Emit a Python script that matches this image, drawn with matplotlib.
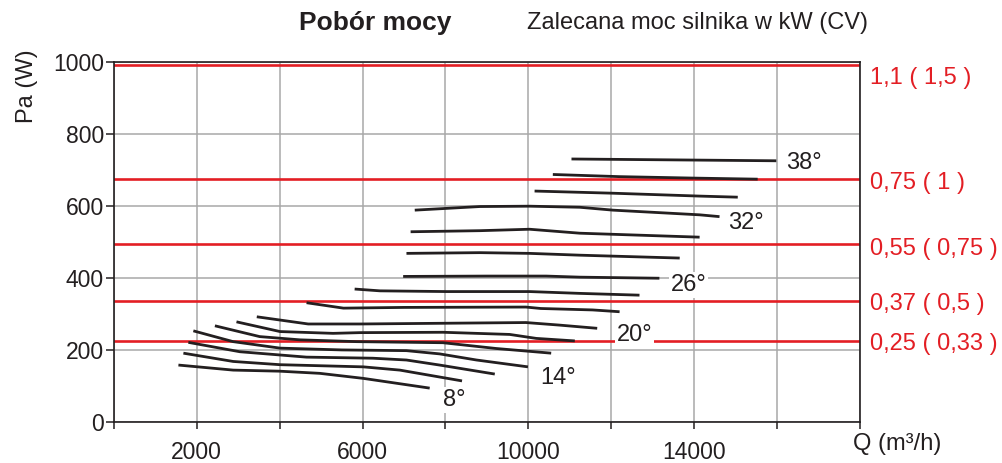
import matplotlib
matplotlib.use("Agg")
import matplotlib.pyplot as plt
import matplotlib.transforms as mtransforms

plt.rcParams['font.family'] = ['Liberation Sans', 'DejaVu Sans']

# Power-absorption curves, one per blade angle: airflow Q (m3/h) and power Pa (W)
q_08 = [1560, 2880, 4000, 4970, 6020, 7620]
p_08 = [158, 144, 141, 135, 121, 94]
q_10 = [1680, 2880, 4010, 6020, 6900, 8400]
p_10 = [191, 168, 159, 153, 144, 114]
q_12 = [1800, 3040, 4650, 6250, 7060, 7860, 9190]
p_12 = [221, 195, 180, 177, 172, 158, 133]
q_14 = [1920, 2880, 4010, 5500, 7060, 7860, 8750, 9990]
p_14 = [253, 223, 205, 200, 198, 189, 172, 153]
q_16 = [2440, 3520, 4490, 5860, 7940, 9220, 10550]
p_16 = [267, 237, 228, 223, 220, 204, 191]
q_18 = [2960, 4010, 5290, 5940, 7940, 9550, 10190, 11120]
p_18 = [278, 251, 246, 248, 249, 243, 232, 225]
q_20 = [3450, 4690, 5940, 7940, 9940, 10740, 11660]
p_20 = [292, 272, 272, 274, 276, 269, 260]
q_22 = [4650, 5540, 7000, 9940, 10300, 11550, 12200]
p_22 = [331, 316, 318, 319, 315, 311, 306]
q_24 = [5810, 6420, 8020, 10030, 11230, 12680]
p_24 = [369, 364, 362, 362, 357, 352]
q_26 = [6980, 9000, 10430, 11240, 13160]
p_26 = [404, 405, 405, 402, 399]
q_28 = [7060, 8830, 10030, 11240, 13650]
p_28 = [468, 470, 468, 463, 455]
q_30 = [7160, 8830, 10030, 11240, 14130]
p_30 = [528, 531, 535, 524, 513]
q_32 = [7260, 8830, 10030, 11240, 12040, 14130, 14610]
p_32 = [588, 598, 599, 596, 588, 575, 570]
q_34 = [10150, 12040, 14130, 15050]
p_34 = [641, 635, 627, 624]
q_36 = [10590, 12200, 13970, 15530]
p_36 = [687, 681, 677, 674]
q_38 = [11040, 15980]
p_38 = [730, 725]

angles = [8, 10, 12, 14, 16, 18, 20, 22, 24, 26, 28, 30, 32, 34, 36, 38]
flows = [q_08, q_10, q_12, q_14, q_16, q_18, q_20, q_22,
         q_24, q_26, q_28, q_30, q_32, q_34, q_36, q_38]
powers = [p_08, p_10, p_12, p_14, p_16, p_18, p_20, p_22,
          p_24, p_26, p_28, p_30, p_32, p_34, p_36, p_38]
labelled_angles = [8, 14, 20, 26, 32, 38]

# Recommended motor power thresholds
motor_limits = [990, 675, 495, 335, 225]
motor_labels = ["1,1 ( 1,5 )", "0,75 ( 1 )", "0,55 ( 0,75 )", "0,37 ( 0,5 )", "0,25 ( 0,33 )"]

x_ticks = [0, 2000, 4000, 6000, 8000, 10000, 12000, 14000, 16000, 18000]
x_tick_labels = ["", "2000", "", "6000", "", "10000", "", "14000", "", ""]
y_ticks = [0, 200, 400, 600, 800, 1000]

RED = "#e31e24"
INK = "#231f20"
GRID = "#a8a8a8"

fig = plt.figure(figsize=(10.03, 4.63), dpi=100)
ax = fig.add_axes([0.1134, 0.0886, 0.7441, 0.7781])
ax.set_xlim(0, 18000)
ax.set_ylim(0, 1000)

ax.set_xticks(x_ticks)
ax.set_xticklabels(x_tick_labels)
ax.set_yticks(y_ticks)
ax.set_yticklabels([str(v) for v in y_ticks])
ax.tick_params(axis='x', length=5, width=1.1, color=INK, pad=9, labelsize=16.5, labelcolor=INK)
ax.tick_params(axis='y', length=6, width=1.1, color=INK, pad=1, labelsize=16.5, labelcolor=INK)
ax.grid(True, color=GRID, linewidth=1.1, zorder=0)
ax.set_axisbelow(True)
for s in ax.spines.values():
    s.set_color(INK)
    s.set_linewidth(1.2)

# motor power threshold lines
for v in motor_limits:
    ax.axhline(v, color=RED, linewidth=1.9, zorder=2)

blend = mtransforms.blended_transform_factory(ax.transAxes, ax.transData)
label_shift = [-13, -4, -5, -3, -3]
for v, txt, dy in zip(motor_limits, motor_labels, label_shift):
    ax.annotate(txt, xy=(1.0, v), xycoords=blend, xytext=(7, dy * 0.72),
                textcoords='offset points', ha='left', va='center',
                fontsize=17, color=RED, annotation_clip=False)

# curves
for ang, q, p in zip(angles, flows, powers):
    ax.plot(q, p, color=INK, linewidth=2.0, solid_capstyle='butt',
            solid_joinstyle='round', zorder=3)

label_offsets = {8: (18, -8.4), 14: (22, -8), 20: (27, -5),
                 26: (21, -5), 32: (19, -4.5), 38: (20, -1.5)}
for ang, q, p in zip(angles, flows, powers):
    if ang in labelled_angles:
        dx, dy = label_offsets[ang]
        ax.annotate(f"{ang}°", xy=(q[-1], p[-1]), xytext=(dx, dy),
                    textcoords='offset points', ha='center', va='center',
                    fontsize=17, color=INK, zorder=4,
                    bbox=dict(boxstyle='square,pad=0.08', fc='white', ec='none'))

fig.text(375 / 1003, 1 - 23 / 463, "Pobór mocy", ha='center', va='center',
         fontsize=19, fontweight='bold', color=INK)
fig.text(527 / 1003, 1 - 23 / 463, "Zalecana moc silnika w kW (CV)", ha='left',
         va='center', fontsize=17, color=INK)
fig.text(27 / 1003, 1 - 86 / 463, "Pa (W)", rotation=90, ha='center', va='center',
         fontsize=17, color=INK)
fig.text(853 / 1003, 1 - 444 / 463, "Q (m³/h)", ha='left', va='center',
         fontsize=17, color=INK)

fig.savefig("out.png", dpi=100)
